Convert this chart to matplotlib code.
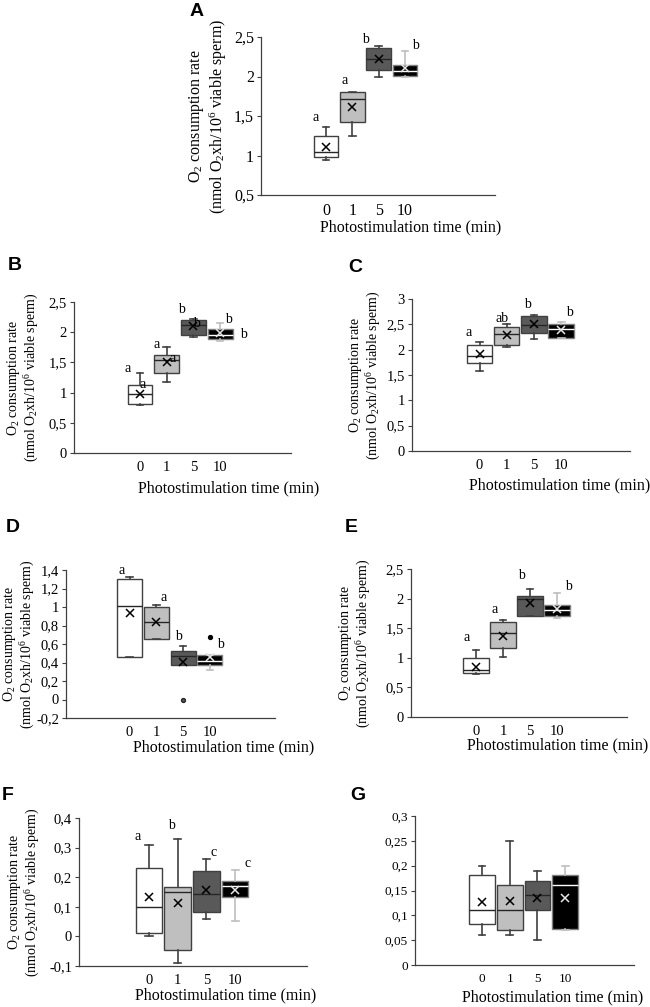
import numpy as np
import matplotlib.pyplot as plt

plt.rcParams['font.family'] = ['Liberation Serif', 'DejaVu Serif']
plt.rcParams['mathtext.default'] = 'regular'

# photostimulation times (x categories) and box fills
times = ['0', '1', '5', '10']
fills = ['#ffffff', '#bfbfbf', '#595959', '#000000']

# box statistics: whisker low, q1, median, q3, whisker high, mean
A_low = [0.944, 1.25, 2.00, 2.00]
A_q1 = [0.986, 1.43, 2.085, 2.01]
A_med = [1.05, 1.71, 2.22, 2.07]
A_q3 = [1.25, 1.80, 2.36, 2.15]
A_high = [1.367, 1.81, 2.38, 2.32]
A_mean = [1.11, 1.61, 2.22, 2.11]
A_letters = ['a', 'a', 'b', 'b']
A_letter_y = [1.485, 1.95, 2.47, 2.39]

B_low = [0.80, 1.175, 1.92, 1.85]
B_q1 = [0.81, 1.32, 1.96, 1.88]
B_med = [0.98, 1.545, 2.125, 1.96]
B_q3 = [1.13, 1.63, 2.20, 2.05]
B_high = [1.32, 1.75, 2.22, 2.16]
B_mean = [0.98, 1.51, 2.11, 1.99]
B_letters = ['a', 'a', 'a', 'a', 'b', 'b', 'b', 'b']
B_letter_y = [1.40, 1.13, 1.80, 1.56, 2.38, 2.14, 2.21, 1.96]

C_low = [1.57, 2.06, 2.21, 2.23]
C_q1 = [1.745, 2.10, 2.33, 2.23]
C_med = [1.88, 2.31, 2.49, 2.41]
C_q3 = [2.10, 2.44, 2.67, 2.51]
C_high = [2.16, 2.51, 2.69, 2.54]
C_mean = [1.92, 2.29, 2.51, 2.39]
C_letters = ['a', 'ab', 'b', 'b']
C_letter_y = [2.34, 2.62, 2.89, 2.74]

D_low = [0.455, 0.65, 0.375, 0.32]
D_q1 = [0.46, 0.65, 0.375, 0.375]
D_med = [1.015, 0.835, 0.47, 0.42]
D_q3 = [1.30, 1.00, 0.52, 0.48]
D_high = [1.32, 1.02, 0.58, 0.48]
D_mean = [0.93, 0.835, 0.41, 0.46]
D_outliers = [[], [], [0.0], [0.68]]
D_letters = ['a', 'a', 'b', 'b']
D_letter_y = [1.40, 1.10, 0.68, 0.60]

E_low = [0.72, 1.02, 1.70, 1.67]
E_q1 = [0.735, 1.17, 1.70, 1.71]
E_med = [0.80, 1.425, 1.99, 1.81]
E_q3 = [1.00, 1.60, 2.04, 1.89]
E_high = [1.13, 1.64, 2.16, 2.10]
E_mean = [0.85, 1.37, 1.93, 1.82]
E_letters = ['a', 'a', 'b', 'b']
E_letter_y = [1.35, 1.81, 2.39, 2.21]

F_low = [0.0, -0.089, 0.06, 0.052]
F_q1 = [0.01, -0.047, 0.083, 0.132]
F_med = [0.10, 0.151, 0.142, 0.17]
F_q3 = [0.23, 0.168, 0.22, 0.187]
F_high = [0.31, 0.33, 0.26, 0.226]
F_mean = [0.134, 0.114, 0.157, 0.157]
F_letters = ['a', 'b', 'c', 'c']
F_letter_y = [0.338, 0.374, 0.284, 0.245]

G_low = [0.06, 0.06, 0.051, 0.07]
G_q1 = [0.082, 0.07, 0.11, 0.072]
G_med = [0.11, 0.11, 0.141, 0.161]
G_q3 = [0.182, 0.161, 0.17, 0.182]
G_high = [0.20, 0.25, 0.19, 0.20]
G_mean = [0.127, 0.128, 0.134, 0.134]

W, H = 650, 1007
fig = plt.figure(figsize=(W / 100, H / 100), dpi=100)

ylab = 'O$_2$ consumption rate\n(nmol O$_2$xh/10$^6$ viable sperm)'
xlab = 'Photostimulation time (min)'


def fmt(v):
    return ('%g' % round(v, 3)).replace('.', ',')


def panel(name, px, low, q1, med, q3, high, mean, yticks, tick_fs,
          outliers=None, letters=None, letter_x=None, letter_y=None,
          xlab_cx=None, xlab_dy=32, ylab_dx=52, ylab_fs=10, label_xy=None):
    left, right, top, bottom, c0, s = px
    ax = fig.add_axes([left / W, 1 - bottom / H, (right - left) / W, (bottom - top) / H])
    if outliers is None:
        outliers = [[], [], [], []]
    stats = []
    for i in range(4):
        stats.append(dict(whislo=low[i], q1=q1[i], med=med[i], q3=q3[i],
                          whishi=high[i], mean=mean[i], fliers=outliers[i]))
    pos = np.arange(1, 5)
    art = ax.bxp(stats, positions=pos, widths=0.93, patch_artist=True,
                 showmeans=True, capwidths=0.25,
                 meanprops=dict(marker='x', markersize=6, markeredgewidth=1.1),
                 flierprops=dict(marker='o', markersize=2.8))
    for i in range(4):
        edge = '#7f7f7f' if i == 3 else '#404040'
        whisk = '#bfbfbf' if i == 3 else '#404040'
        art['boxes'][i].set_facecolor(fills[i])
        art['boxes'][i].set_edgecolor(edge)
        art['boxes'][i].set_linewidth(1.0)
        art['medians'][i].set_color('white' if i == 3 else '#262626')
        art['medians'][i].set_linewidth(1.0)
        for ln in art['whiskers'][2 * i:2 * i + 2] + art['caps'][2 * i:2 * i + 2]:
            ln.set_color(whisk)
            ln.set_linewidth(1.2)
        mcol = '#e6e6e6' if i == 3 else 'black'
        art['means'][i].set_markeredgecolor(mcol)
        art['means'][i].set_markerfacecolor(mcol)
        art['fliers'][i].set_markerfacecolor('black' if i == 3 else '#595959')
        art['fliers'][i].set_markeredgecolor('black' if i == 3 else '#262626')

    ax.set_xlim(1 - (c0 - left) / s, 1 + (right - c0) / s)
    ax.set_ylim(yticks[0], yticks[-1])
    ax.set_yticks(yticks, [fmt(v) for v in yticks])
    ax.set_xticks(pos, times)
    ax.tick_params(axis='x', length=0, pad=6, labelsize=tick_fs)
    ax.tick_params(axis='y', direction='out', length=3, width=0.8, pad=2,
                   labelsize=tick_fs, color='#404040')
    for sp in ['top', 'right']:
        ax.spines[sp].set_visible(False)
    for sp in ['left', 'bottom']:
        ax.spines[sp].set_color('#404040')
        ax.spines[sp].set_linewidth(0.9)
    ax.set_facecolor('none')

    if letters is not None:
        for t, lx, ly in zip(letters, letter_x, letter_y):
            ax.text(lx, ly, t, fontsize=10, ha='center', va='center')

    ax.text((xlab_cx - left) / (right - left), -xlab_dy / (bottom - top), xlab,
            transform=ax.transAxes, ha='center', va='center', fontsize=11.5)
    if ylab_dx is not None:
        ax.text(-ylab_dx / (right - left), 0.5, ylab, transform=ax.transAxes,
                rotation=90, ha='center', va='center', fontsize=ylab_fs,
                linespacing=1.1)
    fig.text(label_xy[0] / W, 1 - label_xy[1] / H, name, family='Liberation Sans',
             fontweight='bold', fontsize=14, ha='center', va='center')
    return ax


panel('A', (261, 495, 37, 195, 326, 26.3), A_low, A_q1, A_med, A_q3, A_high, A_mean,
      np.arange(0.5, 2.51, 0.5), 11.5, letters=A_letters,
      letter_x=[0.62, 1.72, 2.52, 4.42], letter_y=A_letter_y,
      xlab_cx=411, xlab_dy=32, ylab_dx=53, ylab_fs=11.5, label_xy=(197, 11))

panel('B', (74, 291, 302, 453, 140, 26.7), B_low, B_q1, B_med, B_q3, B_high, B_mean,
      np.arange(0, 2.51, 0.5), 10.5, letters=B_letters,
      letter_x=[0.55, 1.11, 1.64, 2.24, 2.57, 3.13, 4.30, 4.86], letter_y=B_letter_y,
      xlab_cx=229, xlab_dy=35, ylab_dx=51, label_xy=(15, 266))

panel('C', (412, 630, 299, 451, 479.5, 27.2), C_low, C_q1, C_med, C_q3, C_high, C_mean,
      np.arange(0, 3.01, 0.5), 10.5, letters=C_letters,
      letter_x=[0.61, 1.83, 2.75, 4.29], letter_y=C_letter_y,
      xlab_cx=560, xlab_dy=34, ylab_dx=47, label_xy=(355, 267))

panel('D', (66, 275, 570, 718, 129.5, 26.8), D_low, D_q1, D_med, D_q3, D_high, D_mean,
      np.arange(-0.2, 1.41, 0.2), 10.5, outliers=D_outliers, letters=D_letters,
      letter_x=[0.72, 2.29, 2.81, 4.38], letter_y=D_letter_y,
      xlab_cx=224, xlab_dy=29, ylab_dx=47, label_xy=(13, 527))

panel('E', (411, 627, 569, 717, 476, 27), E_low, E_q1, E_med, E_q3, E_high, E_mean,
      np.arange(0, 2.51, 0.5), 10.5, letters=E_letters,
      letter_x=[0.67, 1.70, 2.67, 4.41], letter_y=E_letter_y,
      xlab_cx=558, xlab_dy=28, ylab_dx=56, label_xy=(351, 527))

panel('F', (79, 307, 818, 966, 149, 28.7), F_low, F_q1, F_med, F_q3, F_high, F_mean,
      np.arange(-0.1, 0.41, 0.1), 10.5, letters=F_letters,
      letter_x=[0.62, 1.80, 3.26, 4.45], letter_y=F_letter_y,
      xlab_cx=226, xlab_dy=29, ylab_dx=55, label_xy=(8, 796))

panel('G', (415, 634, 816, 965, 482, 27.7), G_low, G_q1, G_med, G_q3, G_high, G_mean,
      np.arange(0, 0.301, 0.05), 9.5,
      xlab_cx=553, xlab_dy=32, ylab_dx=None, label_xy=(358, 796))

fig.savefig('out.png', dpi=100, facecolor='white')
